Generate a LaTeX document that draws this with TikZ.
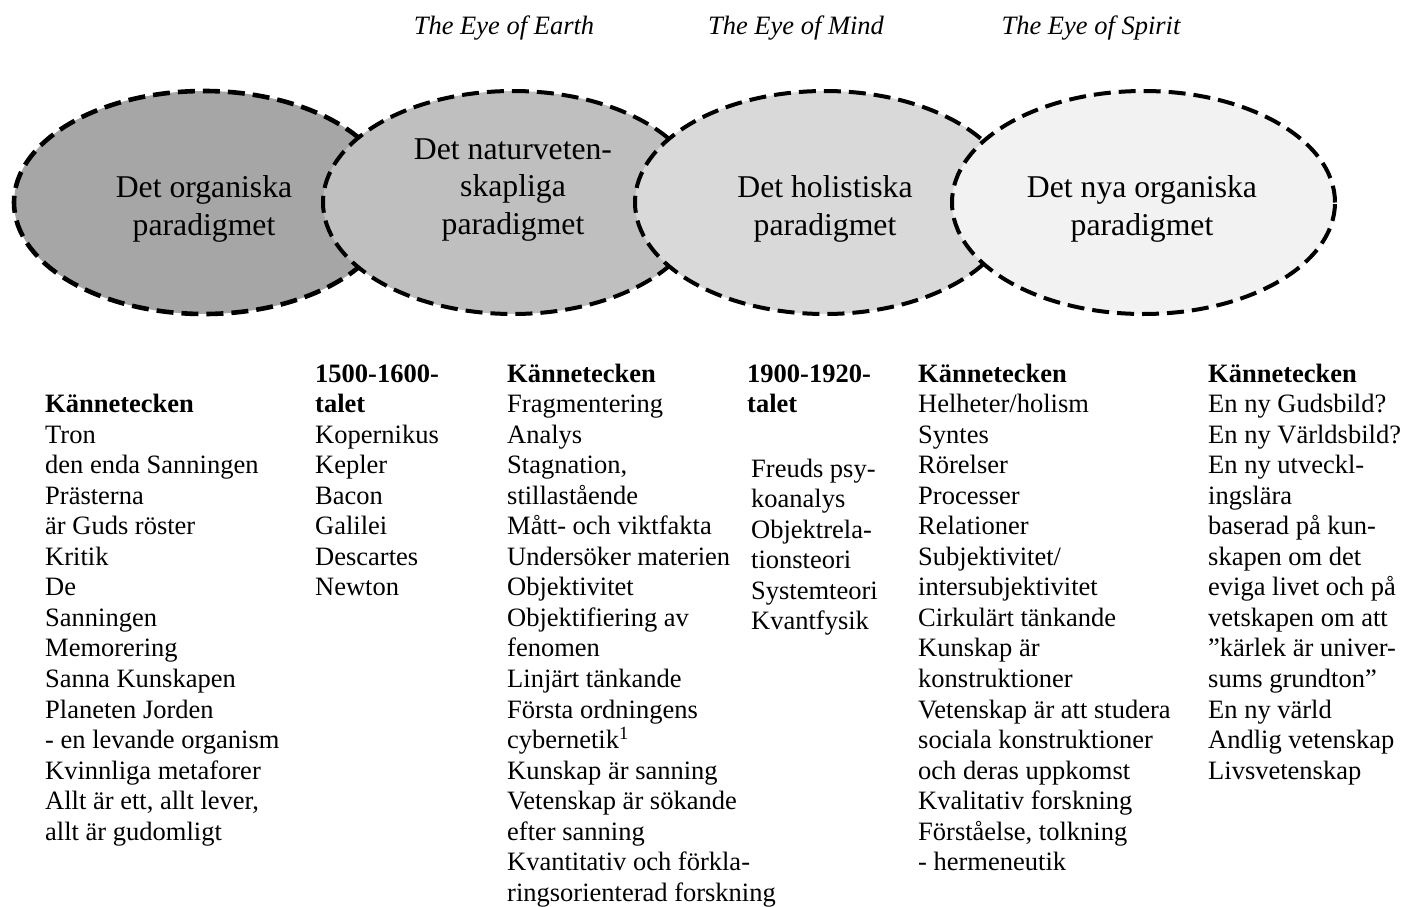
\documentclass[tikz,border=0pt]{standalone}
\usepackage{fontspec}
\setmainfont{Liberation Serif}
\usetikzlibrary{shapes.geometric}
\definecolor{gA}{HTML}{A6A6A6}
\definecolor{gB}{HTML}{BFBFBF}
\definecolor{gC}{HTML}{D9D9D9}
\definecolor{gD}{HTML}{F2F2F2}
\tikzset{
  paradigm/.style={ellipse, draw=black, dash pattern=on 17pt off 8pt, line width=4pt,
    minimum width=380pt, minimum height=223pt, inner sep=0pt},
  ptext/.style={font=\fontsize{31.7}{37.5}\selectfont, align=center, anchor=base, inner sep=0pt},
  eye/.style={font=\fontsize{26.5}{30.55}\selectfont\itshape, anchor=base, inner sep=0pt},
  col/.style={font=\fontsize{26.5}{30.55}\selectfont, align=left, anchor=base west, inner sep=0pt},
}
\begin{document}
\begin{tikzpicture}[x=1pt,y=-1pt]
\useasboundingbox (0,0) rectangle (1401,907);
% titles
\node[eye] (eye1) at (504,35) {The Eye of Earth};
\node[eye] (eye2) at (796,35) {The Eye of Mind};
\node[eye] (eye3) at (1091,35) {The Eye of Spirit};
% ellipses
\node[paradigm, fill=gA, line width=4.6pt] (e1) at (204,202.5) {};
\node[paradigm, fill=gB] (e2) at (513,202.5) {};
\node[paradigm, fill=gC] (e3) at (825,202.5) {};
\node[paradigm, fill=gD, minimum width=383pt] (e4) at (1143.5,202.5) {};
% multi-line nodes: base anchor = baseline of the last line
\node[ptext] (t1) at (204,235) {Det organiska\\paradigmet};
\node[ptext] (t2) at (513,234) {Det naturveten-\\skapliga\\paradigmet};
\node[ptext] (t3) at (825,235) {Det holistiska\\paradigmet};
\node[ptext] (t4) at (1142,235) {Det nya organiska\\paradigmet};
% columns
\node[col] (c1) at (45,840.25) {\textbf{Kännetecken}\\Tron\\den enda Sanningen\\Prästerna\\är Guds röster\\Kritik\\De\\Sanningen\\Memorering\\Sanna Kunskapen\\Planeten Jorden\\- en levande organism\\Kvinnliga metaforer\\Allt är ett, allt lever,\\allt är gudomligt};
\node[col] (c2) at (315,595.85) {\textbf{1500-1600-}\\\textbf{talet}\\Kopernikus\\Kepler\\Bacon\\Galilei\\Descartes\\Newton};
\node[col] (c3) at (507,901.35) {\textbf{Kännetecken}\\Fragmentering\\Analys\\Stagnation,\\stillastående\\Mått- och viktfakta\\Undersöker materien\\Objektivitet\\Objektifiering av\\fenomen\\Linjärt tänkande\\Första ordningens\\cybernetik\textsuperscript{1}\\Kunskap är sanning\\Vetenskap är sökande\\efter sanning\\Kvantitativ och förkla-\\ringsorienterad forskning};
\node[col] (c4h) at (747,412.55) {\textbf{1900-1920-}\\\textbf{talet}};
\node[col] (c4) at (751,629.75) {Freuds psy-\\koanalys\\Objektrela-\\tionsteori\\Systemteori\\Kvantfysik};
\node[col] (c5) at (918,870.8) {\textbf{Kännetecken}\\Helheter/holism\\Syntes\\Rörelser\\Processer\\Relationer\\Subjektivitet/\\intersubjektivitet\\Cirkulärt tänkande\\Kunskap är\\konstruktioner\\Vetenskap är att studera\\sociala konstruktioner\\och deras uppkomst\\Kvalitativ forskning\\Förståelse, tolkning\\- hermeneutik};
\node[col] (c6) at (1208,779.15) {\textbf{Kännetecken}\\En ny Gudsbild?\\En ny Världsbild?\\En ny utveckl-\\ingslära\\baserad på kun-\\skapen om det\\eviga livet och på\\vetskapen om att\\”kärlek är univer-\\sums grundton”\\En ny värld\\Andlig vetenskap\\Livsvetenskap};
\end{tikzpicture}
\end{document}
